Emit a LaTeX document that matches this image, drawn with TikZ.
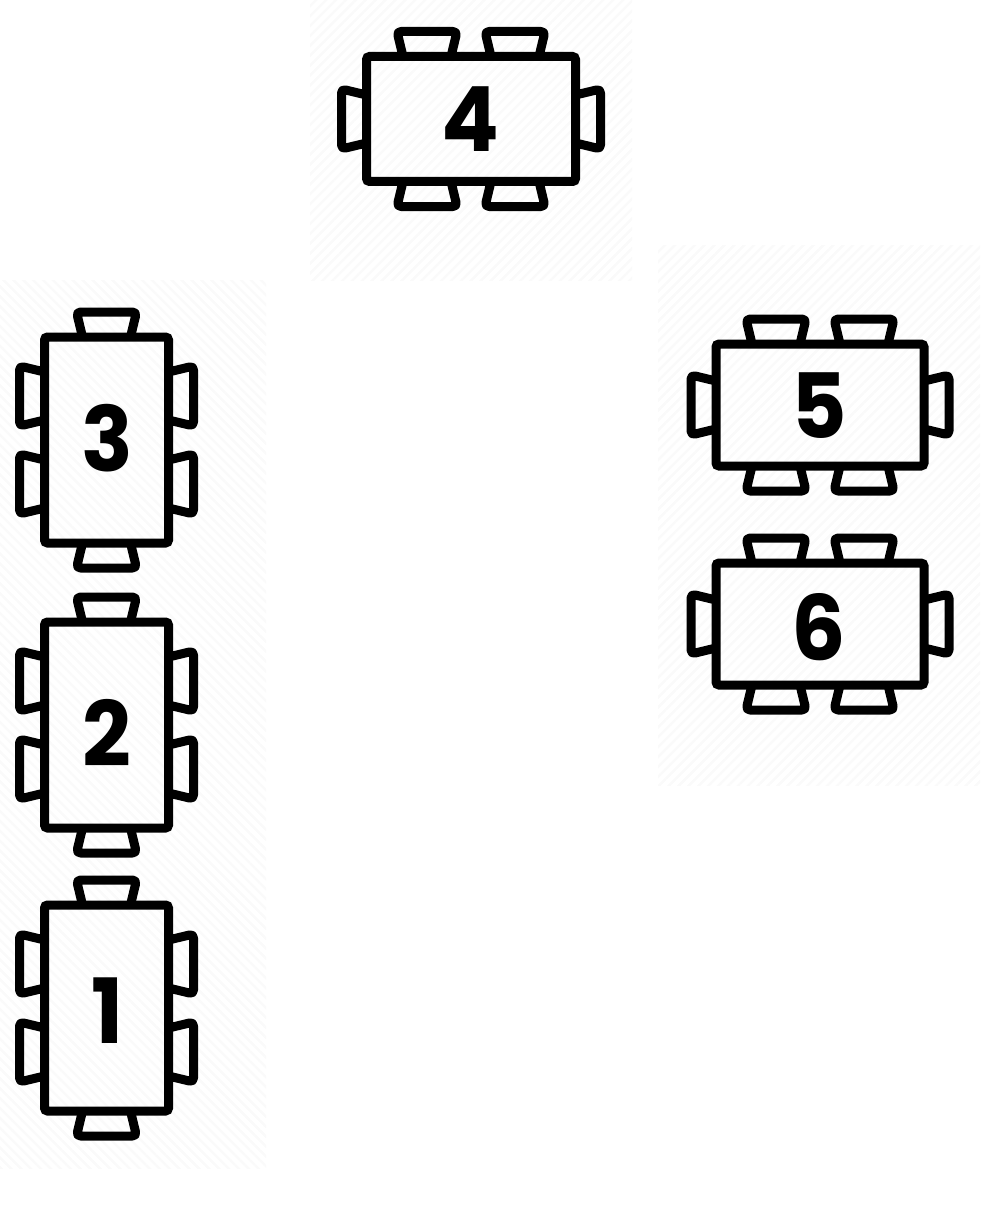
\documentclass[tikz,border=0pt]{standalone}
\usepackage{fontspec}
\setmainfont{Poppins}
\usetikzlibrary{patterns.meta}

\tikzset{
  table wide/.style={draw,line width=9pt,rounded corners=3pt,outer sep=0pt,
    minimum width=208pt,minimum height=122pt,inner sep=0pt},
  table tall/.style={table wide,minimum width=124pt,minimum height=206pt},
  numeral/.style={inner sep=0pt,xscale=.95,transform shape,font=\fontsize{90}{90}\selectfont\bfseries},
  chair/.pic={\draw[line width=9pt,line join=round,rounded corners=4pt] (-24,0) -- (-30,-25) -- (30,-25) -- (24,0);},
  patch/.style={pattern={Lines[angle=#1,distance=7pt,line width=2.5pt]},pattern color=black!2},
}

\begin{document}
\begin{tikzpicture}[x=1pt,y=-1pt]
  \useasboundingbox (0,0) rectangle (999,1217);

  % faint paper behind the tables
  \path[patch=45] (310,0) rectangle (632,280);
  \path[patch=45] (658,245) rectangle (980,785);
  \path[patch=135] (0,280) rectangle (266,1168);

  \node[table wide,minimum width=209pt,minimum height=125pt] (t4) at (471,119) {};
  \node[table wide] (t5) at (820,405) {};
  \node[table wide] (t6) at (820,624) {};
  \node[table tall] (t3) at (106.5,440) {};
  \node[table tall] (t2) at (106.5,725) {};
  \node[table tall] (t1) at (106.5,1008) {};

  \node[numeral] (n4) at (470,119) {4};
  \node[numeral] (n5) at (819,406) {5};
  \node[numeral] (n6) at (819,627) {6};
  \node[numeral] (n3) at (107,438) {3};
  \node[numeral] (n2) at (107,733) {2};
  \node[numeral] (n1) at (108,1011) {1};

  % wide tables: two chairs above and below, one at each end
  \foreach \tbl in {t4,t5,t6} {
    \foreach \off in {-44,44} {
      \pic at ([xshift=\off pt]\tbl.north) {chair};
      \pic[rotate=180] at ([xshift=\off pt]\tbl.south) {chair};
    }
    \pic[rotate=90] at (\tbl.west) {chair};
    \pic[rotate=-90] at (\tbl.east) {chair};
  }

  % tall tables: one chair at each end, two on each side
  \foreach \tbl in {t3,t2,t1} {
    \foreach \off in {-44,44} {
      \pic[rotate=90] at ([yshift=\off pt]\tbl.west) {chair};
      \pic[rotate=-90] at ([yshift=\off pt]\tbl.east) {chair};
    }
    \pic at (\tbl.north) {chair};
    \pic[rotate=180] at (\tbl.south) {chair};
  }
\end{tikzpicture}
\end{document}
